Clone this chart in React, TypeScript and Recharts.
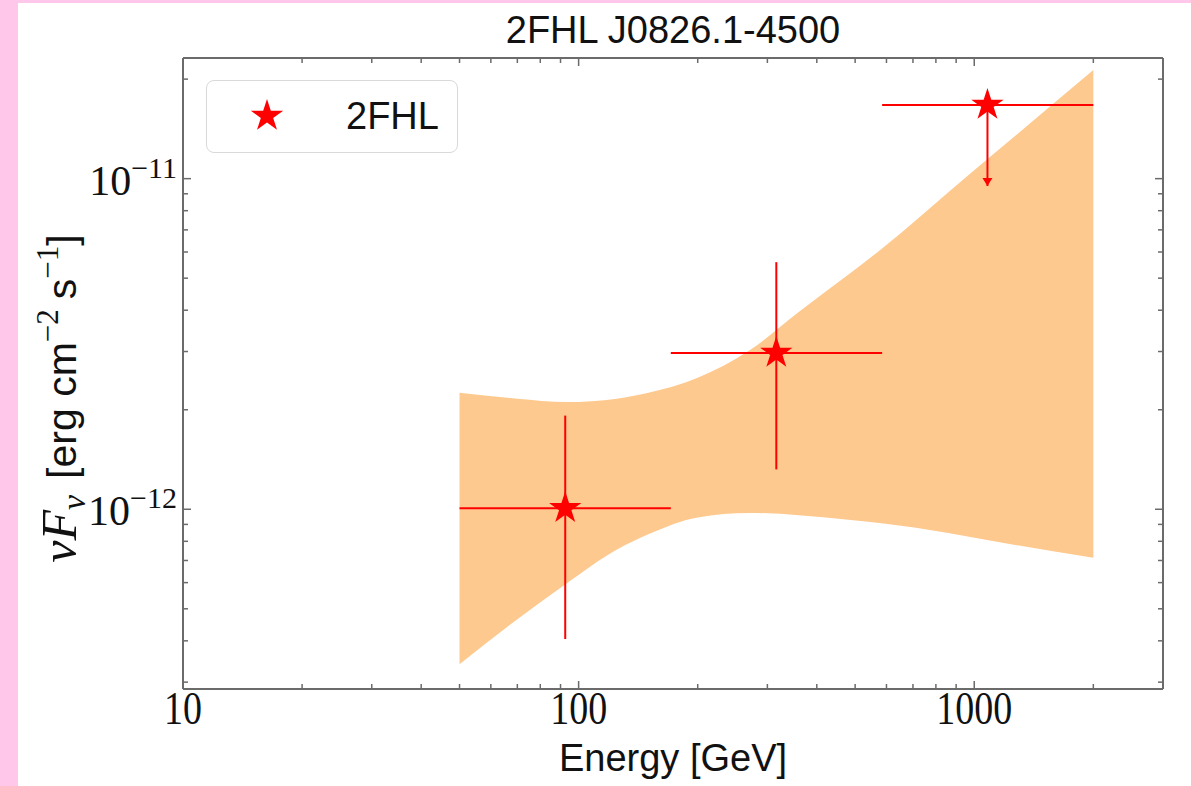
import React from "react";
import { ComposedChart, Area, Scatter, ErrorBar, XAxis, YAxis } from "recharts";

// axis ticks
const energyMajor = [10, 100, 1000];
const energyLabels = ["10", "100", "1000"];
const energyMinor = [20, 30, 40, 50, 60, 70, 80, 90, 200, 300, 400, 500, 600, 700, 800, 900, 2000, 3000];
const fluxMajor = [1e-12, 1e-11];
const fluxExponents = ["−12", "−11"];
const fluxMinor = [3e-13, 4e-13, 5e-13, 6e-13, 7e-13, 8e-13, 9e-13, 2e-12, 3e-12, 4e-12, 5e-12, 6e-12, 7e-12, 8e-12, 9e-12, 2e-11];

// butterfly band
const bandEnergy = [50, 70, 93, 125, 150, 200, 270, 360, 480, 590, 860, 1150, 2000];
const bandUpper = [2.25e-12, 2.16e-12, 2.11e-12, 2.16e-12, 2.25e-12, 2.5e-12, 3.02e-12, 3.95e-12, 5.12e-12, 6.2e-12, 9.1e-12, 1.22e-11, 2.13e-11];
const bandLower = [3.4e-13, 4.65e-13, 5.95e-13, 7.55e-13, 8.4e-13, 9.45e-13, 9.75e-13, 9.6e-13, 9.3e-13, 9.05e-13, 8.48e-13, 7.96e-13, 7.13e-13];

// 2FHL points
const pointEnergy = [92.5, 316, 1080];
const pointFlux = [1.007e-12, 2.97e-12, 1.67e-11];
const binLow = [50, 171, 585];
const binHigh = [171, 585, 2000];
const fluxLow = [4.05e-13, 1.32e-12, 9.5e-12];
const fluxHigh = [1.92e-12, 5.59e-12, 1.67e-11];
const upperLimit = [false, false, true];

const AXIS = "#6b6b6b";
const RED = "#ff0000";
const BAND = "#fdc98f";
const SANS = "'Liberation Sans', Arial, sans-serif";
const SERIF = "'Liberation Serif', 'Times New Roman', serif";

const bandData = bandEnergy.map((e, i) => ({ e, range: [bandLower[i], bandUpper[i]] }));
const points = pointEnergy.map((e, i) => ({
  e,
  f: pointFlux[i],
  xErr: [e - binLow[i], binHigh[i] - e],
  yErr: [pointFlux[i] - fluxLow[i], fluxHigh[i] - pointFlux[i]],
}));
const arrows = pointEnergy
  .map((e, i) => ({ e, f: fluxLow[i], ul: upperLimit[i] }))
  .filter((d) => d.ul);

const starPath = (cx: number, cy: number, R: number) => {
  const r = R * 0.382;
  let d = "";
  for (let i = 0; i < 10; i++) {
    const a = -Math.PI / 2 + (i * Math.PI) / 5;
    const rad = i % 2 === 0 ? R : r;
    d += (i === 0 ? "M" : "L") + (cx + rad * Math.cos(a)).toFixed(2) + "," + (cy + rad * Math.sin(a)).toFixed(2);
  }
  return d + "Z";
};

const isMajor = (v: number, majors: number[]) => majors.findIndex((m) => Math.abs(v / m - 1) < 1e-6);

const XTick = (props: any) => {
  const { x, y, payload, side } = props;
  const idx = isMajor(payload.value, energyMajor);
  const len = idx >= 0 ? 8 : 5;
  const dir = side === "top" ? 1 : -1;
  return (
    <g>
      <line x1={x} x2={x} y1={y} y2={y + dir * len} stroke={AXIS} strokeWidth={1.5} />
      {side === "bottom" && idx >= 0 && (
        <text
          transform={`translate(${x},${y + 35}) scale(1,1.2)`}
          textAnchor="middle"
          fontFamily={SERIF}
          fontSize={38}
          fill="#111"
        >
          {energyLabels[idx]}
        </text>
      )}
    </g>
  );
};

const YTick = (props: any) => {
  const { x, y, payload, side } = props;
  const idx = isMajor(payload.value, fluxMajor);
  const len = idx >= 0 ? 8 : 5;
  const dir = side === "left" ? 1 : -1;
  return (
    <g>
      <line x1={x} x2={x + dir * len} y1={y} y2={y} stroke={AXIS} strokeWidth={1.5} />
      {side === "left" && idx >= 0 && (
        <text x={x - 6} y={y + 16} textAnchor="end" fontFamily={SERIF} fill="#111">
          <tspan fontSize={42}>10</tspan>
          <tspan fontSize={30} dy={-17}>
            {fluxExponents[idx]}
          </tspan>
        </text>
      )}
    </g>
  );
};

const YLabel = (props: any) => {
  const vb = props.viewBox || { x: 0, y: 58, width: 183, height: 631 };
  const cy = vb.y + vb.height / 2 + 25;
  return (
    <text transform={`translate(76,${cy}) rotate(-90)`} textAnchor="middle" fill="#111">
      <tspan fontFamily={SERIF} fontStyle="italic" fontSize={50}>νF</tspan>
      <tspan fontFamily={SERIF} fontStyle="italic" fontSize={34} dy={9}>ν</tspan>
      <tspan fontFamily={SANS} fontSize={41} dy={-9} dx={16}>[erg cm</tspan>
      <tspan fontFamily={SERIF} fontSize={31} dy={-18}>−2</tspan>
      <tspan fontFamily={SANS} fontSize={41} dy={18} dx={10}>s</tspan>
      <tspan fontFamily={SERIF} fontSize={31} dy={-18}>−1</tspan>
      <tspan fontFamily={SANS} fontSize={41} dy={18}>]</tspan>
    </text>
  );
};

export default function App() {
  return (
    <div style={{ position: "absolute", left: 0, top: 0, width: 1191, height: 786, background: "#ffc8eb" }}>
      <div style={{ position: "absolute", left: 18, top: 3, right: 0, bottom: 0, background: "#fff" }} />
      <div style={{ position: "absolute", left: 0, top: 0 }}>
        <ComposedChart width={1191} height={786} data={bandData} margin={{ top: 57, right: 27, bottom: 0, left: 0 }}>
          <XAxis
            xAxisId="b"
            type="number"
            dataKey="e"
            scale="log"
            domain={[10, 3000]}
            allowDataOverflow
            ticks={[...energyMajor, ...energyMinor]}
            interval={0}
            tickSize={0}
            tickMargin={0}
            tickLine={false}
            axisLine={{ stroke: AXIS, strokeWidth: 2 }}
            height={97}
            tick={(p: any) => <XTick {...p} side="bottom" />}
            label={{ value: "Energy [GeV]", position: "insideBottom", offset: 15, fontFamily: SANS, fontSize: 38, fill: "#111" }}
          />
          <XAxis
            xAxisId="t"
            orientation="top"
            type="number"
            dataKey="e"
            scale="log"
            domain={[10, 3000]}
            allowDataOverflow
            ticks={[...energyMajor, ...energyMinor]}
            interval={0}
            tickSize={0}
            tickMargin={0}
            tickLine={false}
            axisLine={{ stroke: AXIS, strokeWidth: 2 }}
            height={1}
            tick={(p: any) => <XTick {...p} side="top" />}
            label={{ value: "2FHL J0826.1-4500", position: "top", offset: 14, fontFamily: SANS, fontSize: 38, fill: "#111" }}
          />
          <YAxis
            yAxisId="l"
            type="number"
            dataKey="f"
            scale="log"
            domain={[2.86e-13, 2.317e-11]}
            allowDataOverflow
            ticks={[...fluxMajor, ...fluxMinor]}
            interval={0}
            tickSize={0}
            tickMargin={0}
            tickLine={false}
            axisLine={{ stroke: AXIS, strokeWidth: 2 }}
            width={183}
            tick={(p: any) => <YTick {...p} side="left" />}
            label={{ content: (p: any) => <YLabel {...p} /> }}
          />
          <YAxis
            yAxisId="r"
            orientation="right"
            type="number"
            dataKey="f"
            scale="log"
            domain={[2.86e-13, 2.317e-11]}
            allowDataOverflow
            ticks={[...fluxMajor, ...fluxMinor]}
            interval={0}
            tickSize={0}
            tickMargin={0}
            tickLine={false}
            axisLine={{ stroke: AXIS, strokeWidth: 2 }}
            width={1}
            tick={(p: any) => <YTick {...p} side="right" />}
          />
          <Area
            xAxisId="b"
            yAxisId="l"
            type="monotone"
            dataKey="range"
            stroke="none"
            fill={BAND}
            fillOpacity={1}
            isAnimationActive={false}
          />
          <Scatter
            xAxisId="b"
            yAxisId="l"
            data={points}
            dataKey="f"
            isAnimationActive={false}
            shape={(p: any) => <path d={starPath(p.cx, p.cy, 17)} fill={RED} />}
          >
            <ErrorBar dataKey="xErr" direction="x" width={0} stroke={RED} strokeWidth={2} isAnimationActive={false} />
            <ErrorBar dataKey="yErr" direction="y" width={0} stroke={RED} strokeWidth={2} isAnimationActive={false} />
          </Scatter>
          <Scatter
            xAxisId="b"
            yAxisId="l"
            data={arrows}
            dataKey="f"
            isAnimationActive={false}
            shape={(p: any) => (
              <path d={`M${p.cx - 5},${p.cy - 8}L${p.cx + 5},${p.cy - 8}L${p.cx},${p.cy}Z`} fill={RED} />
            )}
          />
        </ComposedChart>
      </div>
      <div
        style={{
          position: "absolute",
          left: 206,
          top: 80,
          width: 250,
          height: 71,
          border: "1.5px solid #d9d9d9",
          borderRadius: 8,
          background: "rgba(255,255,255,0.8)",
        }}
      >
        <svg width={120} height={71} style={{ position: "absolute", left: 0, top: 0 }}>
          <path d={starPath(60, 35, 17)} fill={RED} />
        </svg>
        <div
          style={{
            position: "absolute",
            left: 139,
            top: 13,
            fontFamily: SANS,
            fontSize: 38,
            lineHeight: "44px",
            color: "#111",
          }}
        >
          2FHL
        </div>
      </div>
    </div>
  );
}
